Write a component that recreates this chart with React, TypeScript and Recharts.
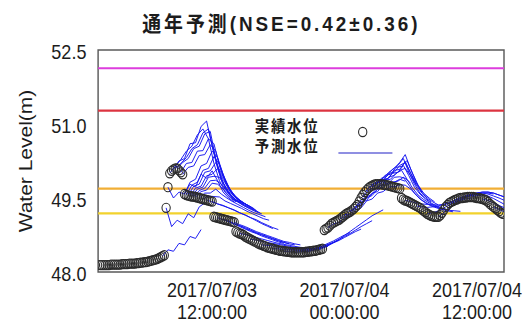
import React from 'react';
import {
  ComposedChart,
  Line,
  Scatter,
  XAxis,
  YAxis,
  ReferenceLine,
  ReferenceArea,
} from 'recharts';

// Observed water level (m), every 10 minutes from 2017/07/03 01:50.
// Hours are counted from 2017/07/03 00:00.
const obsStartHour = 11 / 6;
const obsStepHour = 1 / 6;
const observedLevels = [
  48.14, 48.14, 48.14, 48.14, 48.14, 48.14, 48.15, 48.15, 48.15, 48.15, 48.15, 48.15,
  48.16, 48.16, 48.16, 48.16, 48.17, 48.17, 48.17, 48.17, 48.18, 48.18, 48.19, 48.19,
  48.2, 48.2, 48.21, 48.22, 48.23, 48.24, 48.25, 48.26, 48.28, 48.3, 48.32, 48.34,
  49.3, 49.72, 50.0, 50.05, 50.08, 50.1, 50.1, 50.06, 50.02, 49.98,
  49.58, 49.56, 49.55, 49.54, 49.53, 49.53, 49.52, 49.51, 49.5, 49.49, 49.48, 49.47,
  49.46, 49.45, 49.44, 49.43, 49.12, 49.11, 49.1, 49.09, 49.08, 49.07, 49.06, 49.05,
  49.04, 49.03, 49.02, 49.01, 48.82, 48.8, 48.78, 48.77, 48.75, 48.72, 48.7, 48.68,
  48.66, 48.64, 48.62, 48.6, 48.58, 48.56, 48.55, 48.53, 48.52, 48.5, 48.49, 48.48,
  48.47, 48.46, 48.45, 48.44, 48.43, 48.43, 48.42, 48.42, 48.41, 48.41, 48.4, 48.4,
  48.4, 48.4, 48.4, 48.4, 48.4, 48.4, 48.41, 48.41, 48.42, 48.42, 48.43, 48.43,
  48.44, 48.45, 48.46, 48.47, 48.85, 48.88, 48.9, 48.94, 48.98, 49.0, 49.02, 49.04,
  49.06, 49.09, 49.12, 49.15, 49.18, 49.2, 49.22, 49.25, 49.28, 49.32, 49.36, 49.43,
  49.5, 49.56, 49.62, 49.66, 49.7, 49.73, 49.75, 49.77, 49.78, 49.78, 49.78, 49.78,
  49.77, 49.77, 49.76, 49.75, 49.74, 49.73, 49.72, 49.71, 49.7, 49.69, 49.5, 49.47,
  49.45, 49.44, 49.42, 49.4, 49.38, 49.36, 49.34, 49.32, 49.3, 49.27, 49.24, 49.21,
  49.18, 49.16, 49.14, 49.13, 49.12, 49.12, 49.12, 49.15, 49.2, 49.26, 49.32, 49.36,
  49.4, 49.42, 49.44, 49.46, 49.47, 49.49, 49.5, 49.5, 49.51, 49.51, 49.52, 49.52,
  49.52, 49.52, 49.51, 49.5, 49.5, 49.49, 49.48, 49.47, 49.45, 49.42, 49.38, 49.35,
  49.32, 49.29, 49.26, 49.23, 49.2, 49.18,
];

// Forecast runs: issue hour and predicted level (m) every 30 minutes.
const forecastStepHour = 0.5;
const forecastIssueHours = [
  7.5, 7.8333, 8.0, 8.1667, 8.5, 8.6667, 8.8333, 9.1667, 9.3333, 9.5,
  9.6667, 9.8333, 10.0, 10.1667, 10.3333, 10.5, 10.8333, 11.1667, 11.5, 12.0,
  12.5, 13.0, 13.5, 14.0, 14.5, 15.5, 16.5, 17.5, 18.5, 19.5,
  20.5, 21.5, 22.5, 23.5, 24.0, 24.5, 25.0, 25.5, 25.8333, 26.1667,
  26.5, 26.8333, 27.1667, 27.8333, 28.5, 29.5, 30.5, 31.5, 32.5, 33.5,
  34.5, 35.5, 36.5, 37.5,
];
const forecastLevels = [
  [48.32, 48.45, 48.42, 48.58, 48.55, 48.72, 48.68, 48.86],
  [49.3, 48.92, 49.05, 48.98, 49.18, 49.1, 49.32, 49.4],
  [49.72, 49.5, 49.62, 49.58, 49.78, 49.72, 49.98, 49.9, 50.05, 49.85, 49.62, 49.5, 49.42],
  [50.0, 50.15, 50.28, 50.45, 50.55, 50.78, 50.9, 50.7, 50.2, 49.85, 49.62, 49.5, 49.42],
  [50.08, 50.25, 50.3, 50.6, 50.62, 50.95, 51.06, 50.55, 50.1, 49.75, 49.6, 49.46, 49.42],
  [50.1, 50.2, 50.32, 50.5, 50.58, 50.82, 50.9, 50.42, 50.0, 49.72, 49.56, 49.46, 49.4],
  [50.1, 50.22, 50.3, 50.5, 50.55, 50.8, 50.85, 50.3, 49.9, 49.66, 49.52, 49.44, 49.38],
  [50.02, 50.2, 50.22, 50.45, 50.46, 50.7, 50.6, 50.15, 49.85, 49.62, 49.5, 49.42, 49.36],
  [49.98, 50.12, 50.15, 50.36, 50.38, 50.58, 50.45, 50.05, 49.78, 49.58, 49.47, 49.4, 49.34],
  [49.58, 49.82, 49.88, 50.15, 50.2, 50.45, 50.32, 49.98, 49.72, 49.56, 49.46, 49.38, 49.32],
  [49.56, 49.76, 49.82, 50.06, 50.1, 50.34, 50.18, 49.88, 49.66, 49.52, 49.43, 49.36, 49.3],
  [49.55, 49.74, 49.78, 50.02, 50.05, 50.22, 50.0, 49.78, 49.6, 49.48, 49.4, 49.34, 49.28],
  [49.54, 49.7, 49.74, 49.95, 49.98, 50.1, 49.88, 49.68, 49.53, 49.44, 49.37, 49.31, 49.25],
  [49.53, 49.68, 49.72, 49.92, 49.94, 49.92, 49.75, 49.58, 49.46, 49.39, 49.33, 49.28, 49.22],
  [49.53, 49.65, 49.7, 49.85, 49.86, 49.78, 49.63, 49.5, 49.42, 49.35, 49.3, 49.25, 49.2],
  [49.52, 49.63, 49.66, 49.8, 49.78, 49.68, 49.55, 49.46, 49.4, 49.33, 49.27, 49.22, 49.18],
  [49.5, 49.6, 49.6, 49.68, 49.58, 49.5, 49.43, 49.37, 49.31, 49.25, 49.2, 49.16, 49.12],
  [49.48, 49.54, 49.53, 49.52, 49.44, 49.39, 49.34, 49.29, 49.23, 49.18, 49.13, 49.08, 49.05],
  [49.46, 49.42, 49.38, 49.34, 49.3, 49.25, 49.2, 49.15, 49.1, 49.04, 48.98, 48.93, 48.88],
  [49.43, 49.38, 49.35, 49.3, 49.26, 49.2, 49.16, 49.1, 49.06, 49.0, 48.95, 48.9, 48.86],
  [49.1, 49.06, 49.02, 48.97, 48.92, 48.87, 48.82, 48.78, 48.73, 48.69, 48.65, 48.61, 48.58],
  [49.07, 49.03, 48.98, 48.94, 48.9, 48.85, 48.8, 48.76, 48.72, 48.68, 48.64, 48.6, 48.57],
  [49.04, 48.98, 48.94, 48.88, 48.84, 48.79, 48.75, 48.71, 48.67, 48.63, 48.6, 48.57, 48.55],
  [49.01, 48.96, 48.92, 48.87, 48.82, 48.78, 48.74, 48.7, 48.66, 48.62, 48.6, 48.57, 48.55],
  [48.78, 48.76, 48.73, 48.7, 48.67, 48.64, 48.61, 48.58, 48.56, 48.54, 48.52, 48.5, 48.49],
  [48.66, 48.65, 48.62, 48.6, 48.58, 48.56, 48.54, 48.52, 48.5, 48.49, 48.48, 48.47, 48.47],
  [48.55, 48.54, 48.53, 48.51, 48.5, 48.49, 48.48, 48.47, 48.47, 48.47, 48.48, 48.5, 48.52],
  [48.47, 48.47, 48.46, 48.46, 48.45, 48.45, 48.46, 48.47, 48.49, 48.52, 48.56, 48.6, 48.65],
  [48.42, 48.42, 48.43, 48.43, 48.44, 48.46, 48.49, 48.53, 48.58, 48.63, 48.69, 48.75, 48.8],
  [48.4, 48.41, 48.42, 48.44, 48.47, 48.5, 48.54, 48.59, 48.64, 48.7, 48.76, 48.82, 48.87],
  [48.41, 48.43, 48.46, 48.5, 48.55, 48.6, 48.66, 48.72, 48.78, 48.85, 48.92, 48.98, 49.04],
  [48.44, 48.48, 48.53, 48.6, 48.66, 48.74, 48.82, 48.9, 48.98, 49.06, 49.14, 49.2, 49.26],
  [48.9, 48.98, 49.0, 49.1, 49.14, 49.26, 49.3, 49.44, 49.48, 49.6, 49.63, 49.72, 49.74],
  [49.06, 49.15, 49.18, 49.32, 49.35, 49.5, 49.55, 49.68, 49.72, 49.82, 49.82, 49.88, 49.84],
  [49.15, 49.24, 49.28, 49.42, 49.45, 49.6, 49.63, 49.78, 49.8, 49.92, 49.93, 49.9, 49.8],
  [49.22, 49.33, 49.38, 49.52, 49.58, 49.72, 49.78, 49.92, 49.96, 50.06, 50.1, 49.95, 49.76],
  [49.32, 49.46, 49.52, 49.68, 49.71, 49.88, 49.9, 50.06, 50.08, 50.24, 50.0, 49.8, 49.62],
  [49.5, 49.62, 49.7, 49.82, 49.9, 50.02, 50.1, 50.22, 50.38, 50.08, 49.82, 49.62, 49.5],
  [49.62, 49.72, 49.76, 49.9, 49.94, 50.08, 50.16, 50.3, 50.02, 49.78, 49.6, 49.5, 49.42],
  [49.7, 49.8, 49.82, 49.96, 49.98, 50.12, 50.14, 50.26, 50.0, 49.76, 49.6, 49.5, 49.42],
  [49.75, 49.84, 49.85, 50.0, 50.02, 50.16, 50.22, 50.0, 49.76, 49.6, 49.5, 49.42, 49.36],
  [49.78, 49.86, 49.88, 50.0, 50.02, 50.16, 49.95, 49.72, 49.58, 49.48, 49.4, 49.34, 49.3],
  [49.78, 49.86, 49.88, 50.0, 50.06, 49.88, 49.7, 49.56, 49.47, 49.4, 49.34, 49.3, 49.26],
  [49.76, 49.82, 49.84, 49.92, 49.76, 49.6, 49.48, 49.4, 49.34, 49.3, 49.27, 49.24, 49.22],
  [49.72, 49.77, 49.76, 49.68, 49.56, 49.46, 49.39, 49.34, 49.3, 49.27, 49.25, 49.24, 49.23],
  [49.45, 49.43, 49.4, 49.38, 49.37, 49.36, 49.36, 49.37, 49.39, 49.42, 49.45, 49.48, 49.5],
  [49.34, 49.32, 49.31, 49.32, 49.34, 49.37, 49.41, 49.45, 49.49, 49.52, 49.55, 49.57, 49.58],
  [49.18, 49.2, 49.24, 49.3, 49.36, 49.42, 49.47, 49.52, 49.55, 49.58, 49.6, 49.6, 49.58],
  [49.12, 49.2, 49.3, 49.38, 49.46, 49.52, 49.56, 49.6, 49.62, 49.62, 49.6, 49.56, 49.52],
  [49.4, 49.46, 49.51, 49.55, 49.58, 49.6, 49.62, 49.62, 49.6, 49.56, 49.52],
  [49.5, 49.54, 49.57, 49.6, 49.6, 49.58, 49.54, 49.5, 49.45],
  [49.52, 49.55, 49.56, 49.54, 49.49, 49.43, 49.37],
  [49.48, 49.45, 49.4, 49.35, 49.3],
  [49.32, 49.27, 49.22],
];

// Warning levels (m)
const warningLevels = [52.13, 51.27, 49.69, 49.19];
const warningColors = ['#dd3ddd', '#dc3440', '#f1ae35', '#f2d22c'];

// Axes
const xDomain = [1.67, 38.45];
const xTickHours = [12, 24, 36];
const xTickDates = ['2017/07/03', '2017/07/04', '2017/07/04'];
const xTickTimes = ['12:00:00', '00:00:00', '12:00:00'];
const yDomain = [48.0, 52.5];
const yTicks = [48.0, 49.5, 51.0, 52.5];

const titleText = '通年予測(NSE=0.42±0.36)';
const yAxisTitle = 'Water Level(m)';
const legendObserved = '実績水位';
const legendForecast = '予測水位';

const observedData = observedLevels.map((level, i) => ({
  h: obsStartHour + i * obsStepHour,
  level,
}));

const forecastData = forecastLevels.map((levels, k) =>
  levels.map((level, j) => ({ h: forecastIssueHours[k] + j * forecastStepHour, level })),
);

const LATIN = "'Liberation Sans', Arial, Helvetica, sans-serif";
const CJK = "'Liberation Sans', 'Noto Sans CJK JP', sans-serif";
const TEXT = '#1c1c1c';
const BLUE = '#1414f0';
const MARKER = '#2a2a2a';

const W = 591;
const H = 323;

const XTick = (props: any) => {
  const { x, y, payload } = props;
  const idx = xTickHours.indexOf(payload.value);
  if (idx < 0) return null;
  return (
    <text x={x} y={y} textAnchor="middle" fontSize={20} fontFamily={LATIN} fill={TEXT}>
      <tspan x={x} y={y + 17}>{xTickDates[idx]}</tspan>
      <tspan x={x} y={y + 39}>{xTickTimes[idx]}</tspan>
    </text>
  );
};

const YTick = (props: any) => {
  const { x, y, payload } = props;
  return (
    <text x={x - 5} y={y + 9} textAnchor="end" fontSize={20} fontFamily={LATIN} fill={TEXT}>
      {Number(payload.value).toFixed(1)}
    </text>
  );
};

const ObservedMarker = (props: any) => {
  const { cx, cy } = props;
  if (cx == null || cy == null) return null;
  return <circle cx={cx} cy={cy} r={4.6} fill="none" stroke={MARKER} strokeWidth={1.2} />;
};

export default function App() {
  return (
    <div
      style={{
        position: 'absolute',
        left: 0,
        top: 0,
        width: W,
        height: H,
        background: '#fff',
        transform: 'scaleX(0.9)',
        transformOrigin: '0 0',
      }}
    >
      <ComposedChart width={W} height={H} margin={{ top: 50, right: 31, left: 0, bottom: 0 }}>
        <XAxis
          type="number"
          dataKey="h"
          domain={xDomain}
          ticks={xTickHours}
          interval={0}
          allowDataOverflow
          axisLine={false}
          tickLine={false}
          height={51}
          tick={XTick}
        />
        <YAxis
          type="number"
          dataKey="level"
          domain={yDomain}
          ticks={yTicks}
          interval={0}
          allowDataOverflow
          axisLine={false}
          tickLine={false}
          width={109}
          tick={YTick}
        />
        {warningLevels.map((lv, i) => (
          <ReferenceLine key={`w${i}`} y={lv} stroke={warningColors[i]} strokeWidth={2.2} />
        ))}
        <Scatter
          data={observedData}
          dataKey="level"
          shape={ObservedMarker}
          isAnimationActive={false}
        />
        {forecastData.map((run, k) => (
          <Line
            key={`f${k}`}
            data={run}
            dataKey="level"
            type="linear"
            stroke={BLUE}
            strokeWidth={1}
            dot={false}
            activeDot={false}
            isAnimationActive={false}
          />
        ))}
        <ReferenceArea
          x1={xDomain[0]}
          x2={xDomain[1]}
          y1={yDomain[0]}
          y2={yDomain[1]}
          fill="none"
          fillOpacity={0}
          stroke="#5a5a5a"
          strokeWidth={1.6}
        />
      </ComposedChart>
      <svg
        width={W}
        height={H}
        style={{ position: 'absolute', left: 0, top: 0, pointerEvents: 'none' }}
      >
        <text
          x={311}
          y={31}
          textAnchor="middle"
          fontSize={21}
          fontWeight="bold"
          fontFamily={CJK}
          fill={TEXT}
          textLength={306}
          lengthAdjust="spacing"
        >
          {titleText}
        </text>
        <text
          transform="translate(36,161) rotate(-90)"
          textAnchor="middle"
          fontSize={21}
          fontFamily={LATIN}
          fill={TEXT}
        >
          {yAxisTitle}
        </text>
        <text x={283} y={132} fontSize={16} fontWeight="bold" fontFamily={CJK} fill={TEXT} letterSpacing={2}>
          {legendObserved}
        </text>
        <text x={283} y={152} fontSize={16} fontWeight="bold" fontFamily={CJK} fill={TEXT} letterSpacing={2}>
          {legendForecast}
        </text>
        <circle cx={403} cy={132} r={4.6} fill="none" stroke={MARKER} strokeWidth={1.2} />
        <line x1={376} y1={153} x2={436} y2={153} stroke="#6a6ad8" strokeWidth={1.4} />
      </svg>
    </div>
  );
}
